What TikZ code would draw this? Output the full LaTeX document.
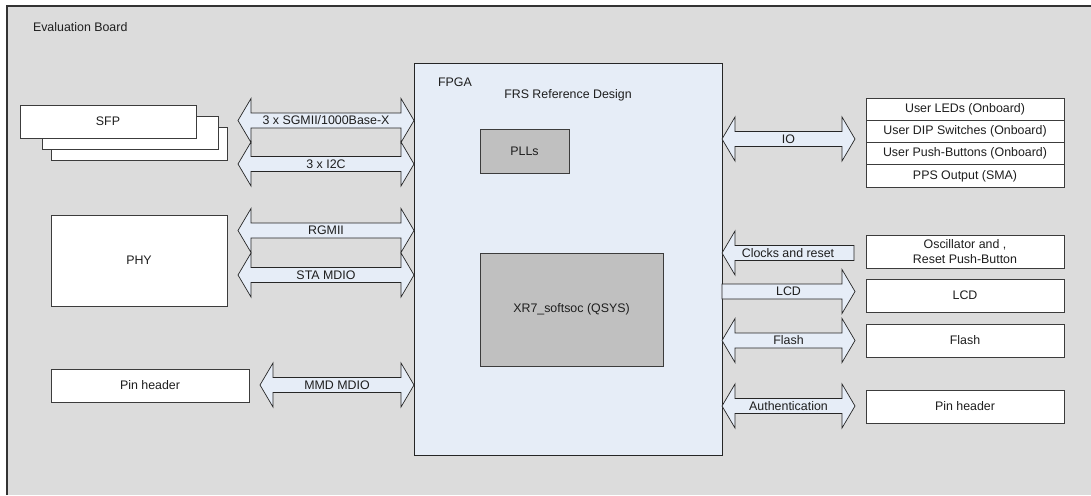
\documentclass[tikz,border=0pt]{standalone}
\usepackage{fontspec}
\setmainfont{Liberation Sans}
\definecolor{boardgray}{RGB}{220,220,220}
\definecolor{fpgablue}{RGB}{230,237,247}
\definecolor{chipgray}{RGB}{192,192,192}
\definecolor{linegray}{RGB}{60,60,60}
\definecolor{txt}{RGB}{30,30,30}
\newcommand\fsz{\fontsize{12.4}{14.6}\selectfont}
\tikzset{
  box/.style={draw=linegray, line width=0.8pt, fill=white, inner sep=0pt, outer sep=0pt,
              text=txt, align=center, font=\fsz},
  chip/.style={box, fill=chipgray},
  fpgabox/.style={box, draw=black!85, fill=fpgablue},
  barrow/.style={draw=black!85, line width=0.7pt, fill=fpgablue, line join=miter},
  lbl/.style={text=txt, inner sep=0pt, outer sep=0pt, font=\fsz, align=center},
  boardline/.style={draw=black!80, line width=1.3pt},
}
% box: [style] name x1 y1 x2 y2 text
\newcommand\bx[7][box]{\node[#1, minimum width={#5-#3}, minimum height={#6-#4}] (#2) at ({(#3+#5)/2},{(#4+#6)/2}) {#7};}
% double arrow: name x1 x2 y text
\newcommand\dblarr[5]{%
  \path[barrow] (#2,#4) -- ({#2+13},{#4-22}) -- ({#2+13},{#4-7.5}) -- ({#3-13},{#4-7.5}) -- ({#3-13},{#4-22})
    -- (#3,#4) -- ({#3-13},{#4+22}) -- ({#3-13},{#4+7.5}) -- ({#2+13},{#4+7.5}) -- ({#2+13},{#4+22}) -- cycle;
  \node[lbl] (#1) at ({(#2+#3)/2},#4) {#5};}
% right arrow: name tail tip y text
\newcommand\rarr[5]{%
  \path[barrow] (#2,{#4-7.5}) -- ({#3-13},{#4-7.5}) -- ({#3-13},{#4-22}) -- (#3,#4) -- ({#3-13},{#4+22})
    -- ({#3-13},{#4+7.5}) -- (#2,{#4+7.5}) -- cycle;
  \node[lbl] (#1) at ({(#2+#3)/2},#4) {#5};}
% left arrow: name tip tail y text
\newcommand\larr[5]{%
  \path[barrow] (#2,#4) -- ({#2+13},{#4-22}) -- ({#2+13},{#4-7.5}) -- (#3,{#4-7.5}) -- (#3,{#4+7.5})
    -- ({#2+13},{#4+7.5}) -- ({#2+13},{#4+22}) -- cycle;
  \node[lbl] (#1) at ({(#2+#3)/2},#4) {#5};}
\begin{document}
\begin{tikzpicture}[x=1pt,y=-1pt]
\useasboundingbox (0,0) rectangle (1091,495);
% board
\fill[boardgray] (7,6) rectangle (1091,495);
\path[boardline] (7,495) -- (7,6) -- (1091,6);
\node[lbl, anchor=west] (board) at (33,27) {Evaluation Board};

% SFP stack
\bx{sfp3}{51}{127}{227}{160}{}
\bx{sfp2}{42}{116}{218}{149}{}
\bx{sfp}{20}{105}{196}{138}{SFP}
% PHY and pin header
\bx{phy}{51}{215}{227}{306}{PHY}
\bx{pinl}{51}{369}{249}{402}{Pin header}

% FPGA
\bx[fpgabox]{fpga}{414}{63}{722}{455}{}
\node[lbl, anchor=west] (fpgalbl) at (438,82) {FPGA};
\node[lbl] (frs) at (568,95) {FRS Reference Design};
\bx[chip]{plls}{480}{129}{569}{173}{PLLs}
\bx[chip]{xr7}{480}{253}{663}{366}{XR7\_softsoc (QSYS)}

% left arrows
\dblarr{sgmii}{238}{414}{120.5}{3 x SGMII/1000Base-X}
\dblarr{i2c}{238}{414}{164}{3 x I2C}
\dblarr{rgmii}{238}{414}{230.5}{RGMII}
\dblarr{sta}{238}{414}{275}{STA MDIO}
\dblarr{mmd}{260}{414}{385}{MMD MDIO}

% right arrows
\dblarr{io}{722}{855}{139}{IO}
\larr{clk}{722}{854}{253}{Clocks and reset}
\rarr{lcdarr}{722}{855}{291.5}{LCD}
\dblarr{flasharr}{722}{855}{340.5}{Flash}
\dblarr{auth}{722}{855}{406}{Authentication}

% right boxes
\bx{leds}{866}{98}{1064}{120.25}{User LEDs (Onboard)}
\bx{dip}{866}{120.25}{1064}{142.5}{User DIP Switches (Onboard)}
\bx{push}{866}{142.5}{1064}{164.75}{User Push-Buttons (Onboard)}
\bx{pps}{866}{164.75}{1064}{187}{PPS Output (SMA)}
\bx{osc}{866}{235}{1064}{268}{Oscillator and ,\\Reset Push-Button}
\bx{lcd}{866}{279}{1064}{312}{LCD}
\bx{flash}{866}{324}{1064}{357}{Flash}
\bx{pinr}{866}{390}{1064}{423}{Pin header}
\end{tikzpicture}
\end{document}
